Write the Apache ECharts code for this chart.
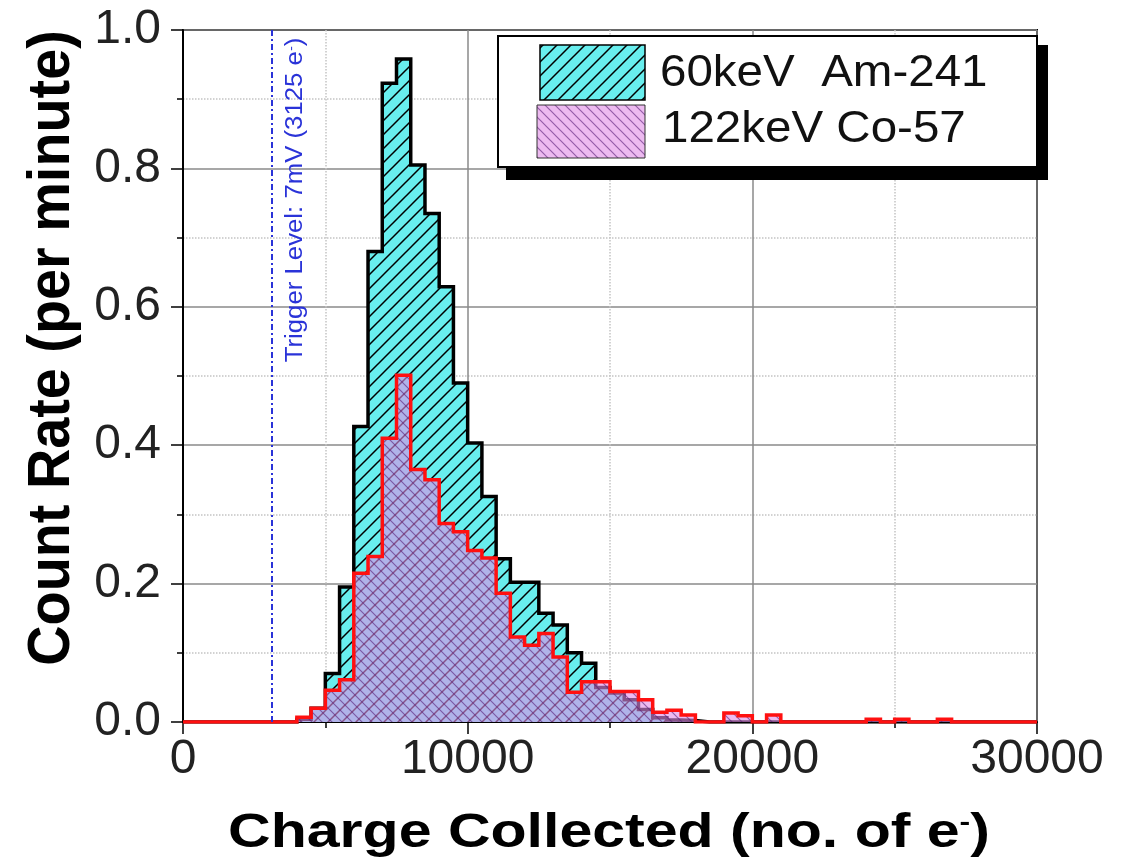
<!DOCTYPE html>
<html>
<head>
<meta charset="utf-8">
<script src="https://cdn.jsdelivr.net/npm/echarts@6/dist/echarts.min.js"></script>
<style>
  html, body { margin: 0; padding: 0; background: #fff; }
  #chart { width: 1130px; height: 868px; }
</style>
</head>
<body>
<div id="chart"></div>
<script>
  // histogram bins (lower edge of each 500 e- bin)
  var binStarts = [
    0, 500, 1000, 1500, 2000, 2500, 3000, 3500, 4000, 4500,
    5000, 5500, 6000, 6500, 7000, 7500, 8000, 8500, 9000, 9500,
    10000, 10500, 11000, 11500, 12000, 12500, 13000, 13500, 14000, 14500,
    15000, 15500, 16000, 16500, 17000, 17500, 18000, 18500, 19000, 19500,
    20000, 20500, 21000, 21500, 22000, 22500, 23000, 23500, 24000, 24500,
    25000, 25500, 26000, 26500, 27000, 27500, 28000, 28500, 29000, 29500
  ]
  var binEnd = 30000

  // 60keV Am-241 count rate per bin
  var am241 = [
    0, 0, 0, 0, 0, 0, 0, 0, 0.004, 0.02,
    0.07, 0.195, 0.427, 0.68, 0.923, 0.958, 0.805, 0.735, 0.629, 0.49,
    0.403, 0.326, 0.236, 0.202, 0.202, 0.157, 0.14, 0.1, 0.085, 0.05,
    0.042, 0.032, 0.018, 0.006, 0.003, 0.002, 0, 0, 0, 0,
    0, 0, 0, 0, 0, 0, 0, 0, 0, 0,
    0, 0, 0, 0, 0, 0, 0, 0, 0, 0
  ]

  // 122keV Co-57 count rate per bin
  var co57 = [
    0, 0, 0, 0, 0, 0, 0, 0, 0.007, 0.02,
    0.046, 0.061, 0.215, 0.239, 0.41, 0.501, 0.365, 0.35, 0.287, 0.275,
    0.248, 0.237, 0.186, 0.123, 0.111, 0.128, 0.094, 0.043, 0.058, 0.058,
    0.044, 0.044, 0.032, 0.014, 0.017, 0.01, 0, 0, 0.013, 0.009,
    0, 0.01, 0, 0, 0, 0, 0, 0, 0.004, 0,
    0.004, 0, 0, 0.004, 0, 0, 0, 0, 0, 0
  ]

  var seriesNames = ['60keV  Am-241', '122keV Co-57']
  var triggerLevel = 3125

  function toSteps(values) {
    var pts = binStarts.map(function (x, i) { return [x, values[i]] })
    pts.push([binEnd, values[values.length - 1]])
    return pts
  }

  // hatch fills
  function hatch(size, bg, lineColor, lineWidth, forward) {
    var c = document.createElement('canvas')
    c.width = size
    c.height = size
    var g = c.getContext('2d')
    g.fillStyle = bg
    g.fillRect(0, 0, size, size)
    g.strokeStyle = lineColor
    g.lineWidth = lineWidth
    g.beginPath()
    if (forward) {
      g.moveTo(-2, size + 2); g.lineTo(size + 2, -2)
      g.moveTo(-2, 2); g.lineTo(2, -2)
      g.moveTo(size - 2, size + 2); g.lineTo(size + 2, size - 2)
    } else {
      g.moveTo(-2, -2); g.lineTo(size + 2, size + 2)
      g.moveTo(size - 2, -2); g.lineTo(size + 2, 2)
      g.moveTo(-2, size - 2); g.lineTo(2, size + 2)
    }
    g.stroke()
    return c
  }
  var amFill = { image: hatch(14, '#68eeee', '#000', 1.5, true), repeat: 'repeat' }
  var coFill = { image: hatch(10, 'rgba(225,140,230,0.6)', 'rgba(90,30,120,0.6)', 1.2, false), repeat: 'repeat' }

  var chart = echarts.init(document.getElementById('chart'))
  chart.setOption({
    animation: false,
    backgroundColor: '#fff',
    grid: {
      left: 183,
      right: 93,
      top: 30,
      bottom: 146,
      show: true,
      borderColor: '#000',
      borderWidth: 2
    },
    xAxis: {
      type: 'value',
      min: 0,
      max: 30000,
      interval: 10000,
      axisLine: { show: true, onZero: false, lineStyle: { color: '#000', width: 2 } },
      axisTick: { show: true, length: 12, lineStyle: { color: '#000', width: 1.5 } },
      minorTick: { show: true, splitNumber: 2, length: 6, lineStyle: { color: '#000', width: 1.5 } },
      axisLabel: {
        fontSize: 48,
        fontFamily: 'Liberation Sans',
        color: '#222',
        margin: 14,
        formatter: function (v) { return String(v) }
      },
      splitLine: { show: true, lineStyle: { color: '#8a8a8a', width: 1.5 } },
      minorSplitLine: { show: true, lineStyle: { color: '#c4c4c4', type: 'dotted', width: 1.5 } }
    },
    yAxis: {
      type: 'value',
      min: 0,
      max: 1,
      interval: 0.2,
      axisLine: { show: true, lineStyle: { color: '#000', width: 2 } },
      axisTick: { show: true, length: 12, lineStyle: { color: '#000', width: 1.5 } },
      minorTick: { show: true, splitNumber: 2, length: 6, lineStyle: { color: '#000', width: 1.5 } },
      axisLabel: {
        fontSize: 48,
        fontFamily: 'Liberation Sans',
        color: '#222',
        margin: 22,
        formatter: function (v) { return v.toFixed(1) }
      },
      splitLine: { show: true, lineStyle: { color: '#8a8a8a', width: 1.5 } },
      minorSplitLine: { show: true, lineStyle: { color: '#c4c4c4', type: 'dotted', width: 1.5 } }
    },
    series: [
      {
        name: seriesNames[0],
        type: 'line',
        step: 'end',
        symbol: 'none',
        z: 2,
        data: toSteps(am241),
        lineStyle: { color: '#000', width: 3.5, join: 'miter' },
        areaStyle: { color: amFill, opacity: 1 },
        markLine: {
          silent: true,
          symbol: 'none',
          label: { show: false },
          lineStyle: { color: '#2a33d8', width: 2, type: [6, 3, 2, 3] },
          data: [{ xAxis: triggerLevel }]
        }
      },
      {
        name: seriesNames[1],
        type: 'line',
        step: 'end',
        symbol: 'none',
        z: 3,
        data: toSteps(co57),
        lineStyle: { color: '#ff1010', width: 3.5, join: 'miter' },
        areaStyle: { color: coFill, opacity: 1 }
      }
    ],
    graphic: [
      // trigger label
      {
        type: 'text',
        x: 296,
        y: 200,
        rotation: Math.PI / 2,
        scaleX: 1.12,
        z: 10,
        style: {
          text: '{a|Trigger Level: 7mV (3125 e}{s|-}{a|)}',
          align: 'center',
          verticalAlign: 'middle',
          rich: {
            a: { fontSize: 23, fontFamily: 'Liberation Sans', fill: '#2a33d8' },
            s: { fontSize: 13, fontFamily: 'Liberation Sans', fill: '#2a33d8', verticalAlign: 'top', padding: [0, 0, 10, 0] }
          }
        }
      },
      // y axis title
      {
        type: 'text',
        x: 52,
        y: 348,
        rotation: Math.PI / 2,
        scaleX: 0.93,
        style: {
          text: 'Count Rate (per minute)',
          align: 'center',
          verticalAlign: 'middle',
          fontSize: 60,
          fontWeight: 'bold',
          fontFamily: 'Liberation Sans',
          fill: '#000'
        }
      },
      // x axis title
      {
        type: 'text',
        x: 609,
        y: 834,
        scaleX: 1.23,
        style: {
          text: '{a|Charge Collected (no. of e}{s|-}{a|)}',
          align: 'center',
          verticalAlign: 'middle',
          rich: {
            a: { fontSize: 48, fontWeight: 'bold', fontFamily: 'Liberation Sans', fill: '#000' },
            s: { fontSize: 26, fontWeight: 'bold', fontFamily: 'Liberation Sans', fill: '#000', verticalAlign: 'top', padding: [0, 0, 20, 0] }
          }
        }
      },
      // legend box
      {
        type: 'rect',
        z: 20,
        shape: { x: 506, y: 45, width: 542, height: 135 },
        style: { fill: '#000' }
      },
      {
        type: 'rect',
        z: 21,
        shape: { x: 498, y: 36, width: 539, height: 131 },
        style: { fill: '#fff', stroke: '#000', lineWidth: 2 }
      },
      {
        type: 'rect',
        z: 22,
        shape: { x: 540, y: 45, width: 105, height: 55 },
        style: { fill: amFill, stroke: '#000', lineWidth: 1.5 }
      },
      {
        type: 'rect',
        z: 22,
        shape: { x: 537, y: 105, width: 108, height: 53 },
        style: { fill: coFill, stroke: '#333', lineWidth: 1 }
      },
      {
        type: 'text',
        z: 22,
        x: 660,
        y: 74,
        scaleX: 1.08,
        style: {
          text: seriesNames[0],
          align: 'left',
          verticalAlign: 'middle',
          fontSize: 44,
          fontFamily: 'Liberation Sans',
          fill: '#111'
        }
      },
      {
        type: 'text',
        z: 22,
        x: 662,
        y: 130,
        scaleX: 1.08,
        style: {
          text: seriesNames[1],
          align: 'left',
          verticalAlign: 'middle',
          fontSize: 44,
          fontFamily: 'Liberation Sans',
          fill: '#111'
        }
      }
    ]
  })
</script>
</body>
</html>
